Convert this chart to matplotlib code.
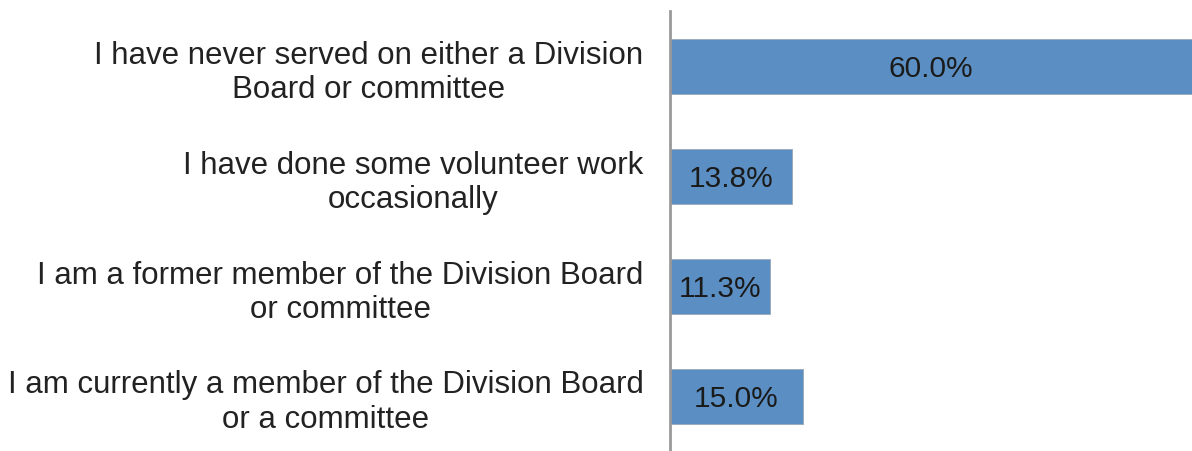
import matplotlib
matplotlib.use("Agg")
import matplotlib.pyplot as plt

categories = [
    "I have never served on either a Division\nBoard or committee",
    "I have done some volunteer work\noccasionally",
    "I am a former member of the Division Board\nor committee",
    "I am currently a member of the Division Board\nor a committee",
]
values = [60.0, 13.8, 11.3, 15.0]
value_labels = ["60.0%", "13.8%", "11.3%", "15.0%"]

plt.rcParams['font.family'] = ['Liberation Sans', 'DejaVu Sans']

fig = plt.figure(figsize=(11.92, 4.52), dpi=100)
ax = fig.add_axes([670/1192, 0, 522/1192, 440/452])

xmax = 58.85
ypos = list(range(len(categories)))
ax.barh(ypos, values, height=0.5, color='#5b8fc4', edgecolor='#9aa7b5', linewidth=0.6)
ax.set_xlim(0, xmax)
ax.set_ylim(len(categories) - 0.5, -0.5)

for y, v, lab in zip(ypos, values, value_labels):
    ax.text(min(v, xmax) / 2, y + 0.02, lab, ha='center', va='center', fontsize=21.5, color='#1a1a1a')

ax.set_yticks(ypos)
ax.set_yticklabels(categories, fontsize=22.5, color='#222222', multialignment='center', linespacing=1.18)
ax.tick_params(axis='y', length=0, pad=19)
ax.set_xticks([])
for s in ['top', 'right', 'bottom']:
    ax.spines[s].set_visible(False)
ax.spines['left'].set_color('#999999')
ax.spines['left'].set_linewidth(2)

fig.savefig('out.png', dpi=100)
